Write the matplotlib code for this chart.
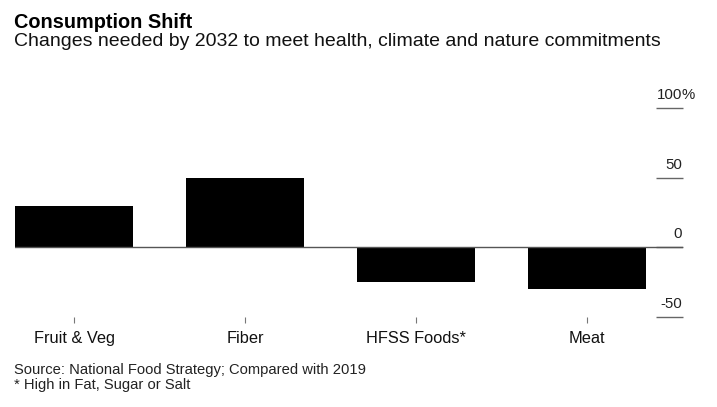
import matplotlib
matplotlib.use('Agg')
from matplotlib import pyplot as plt
from matplotlib import transforms

plt.rcParams['font.family'] = ['Liberation Sans', 'DejaVu Sans']

categories = ['Fruit & Veg', 'Fiber', 'HFSS Foods*', 'Meat']
changes = [30, 50, -25, -30]
y_ticks = [-50, 0, 50, 100]
y_tick_labels = ['-50', '0', '50', '100']

W, H = 717, 407
fig = plt.figure(figsize=(W / 100, H / 100), dpi=100)
ax = fig.add_axes([15 / W, (H - 317.3) / H, 668 / W, 209.6 / H])

x = list(range(len(categories)))
bar_w = 0.69
ax.bar(x, changes, width=bar_w, color='black', zorder=2)
ax.axhline(0, color='#555555', lw=1.0, zorder=3)

ax.set_xlim(-bar_w / 2, 3.561)
ax.set_ylim(-50, 100)

for s in ax.spines.values():
	s.set_visible(False)

ax.set_xticks(x)
ax.set_xticklabels(categories, fontsize=11.8, color='#111111')
ax.tick_params(axis='x', length=4.5, width=0.8, color='#777777', pad=5.5)

ax.yaxis.tick_right()
ax.set_yticks(y_ticks)
ax.set_yticklabels([])
ax.tick_params(axis='y', direction='in', length=19.5, width=1.0, color='#666666', pad=0)

# tick labels sit on top of the tick lines, right-aligned at the axis end
blend = transforms.blended_transform_factory(ax.transAxes, ax.transData)
lab_tr = transforms.offset_copy(blend, fig=fig, x=-1, y=9, units='dots')
for v, lab in zip(y_ticks, y_tick_labels):
	ax.text(1.0, v, lab, transform=lab_tr, ha='right', va='baseline',
		fontsize=10.8, color='#222222', clip_on=False)
	if v == 100:
		ax.text(1.0, v, '%', transform=lab_tr, ha='left', va='baseline',
			fontsize=10.8, color='#222222', clip_on=False)

fig.text(14 / W, 1 - 28 / H, 'Consumption Shift', fontsize=14.3, fontweight='bold',
	color='black', va='baseline')
fig.text(14 / W, 1 - 46.5 / H, 'Changes needed by 2032 to meet health, climate and nature commitments',
	fontsize=14.0, color='#111111', va='baseline')
fig.text(14 / W, 1 - 374 / H, 'Source: National Food Strategy; Compared with 2019',
	fontsize=10.6, color='#222222', va='baseline')
fig.text(14 / W, 1 - 389 / H, '* High in Fat, Sugar or Salt',
	fontsize=10.6, color='#222222', va='baseline')

fig.savefig('out.png', dpi=100, facecolor='white')
